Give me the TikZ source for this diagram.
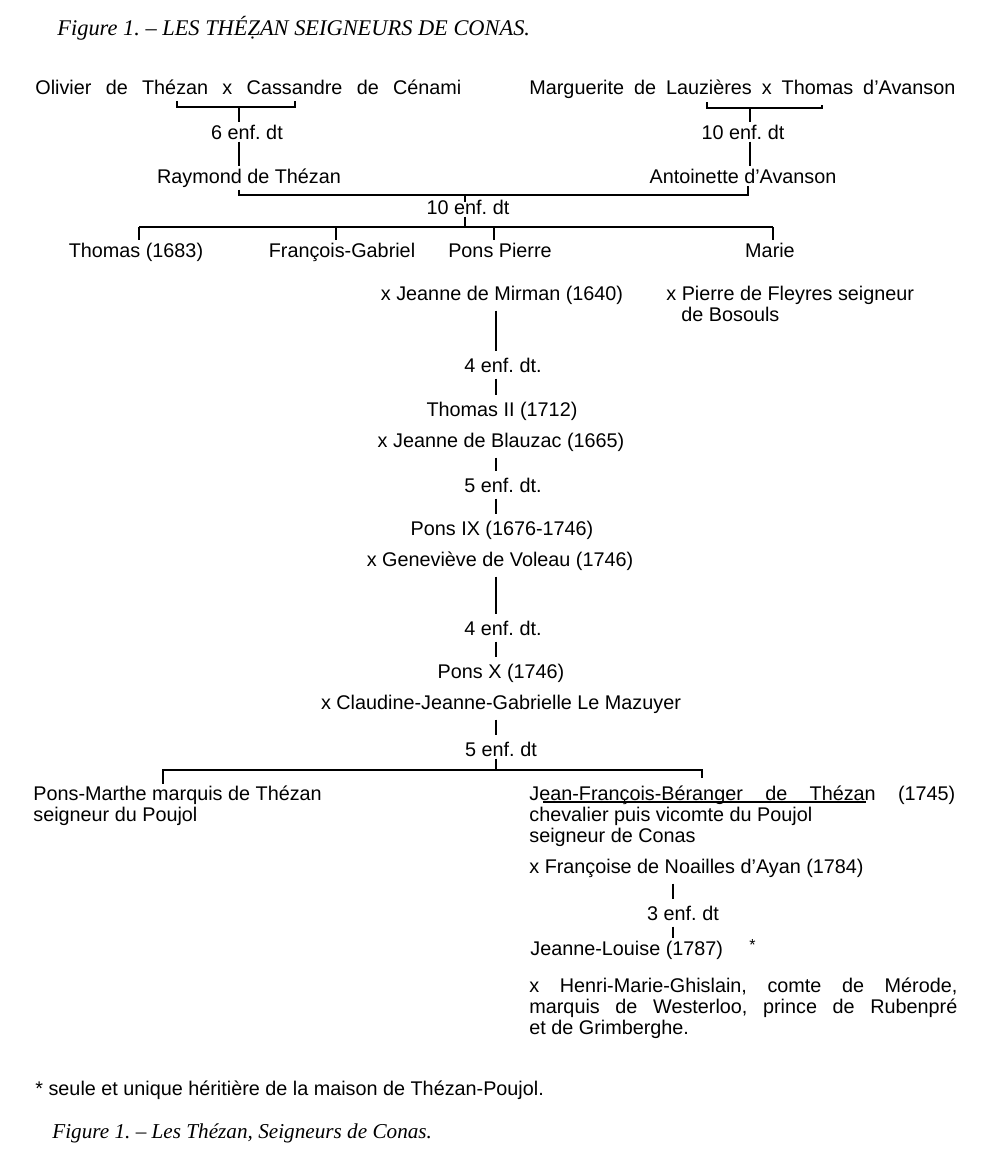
\documentclass[tikz,border=0pt]{standalone}
\usepackage{fontspec}
\setmainfont{Liberation Sans}
\newfontfamily\titrefont{Liberation Serif}
\usetikzlibrary{calc}
\tikzset{trait/.style={line width=1pt},
	titre/.style={font={\titrefont\itshape\fontsize{11.2}{13}\selectfont}}
}
\newcommand{\corps}{\fontsize{9.9}{10.6}\selectfont}

\begin{document}
\frenchspacing
\begin{tikzpicture}[x=0.5pt,y=-0.5pt]
	\tikzstyle{every node}=[font=\corps,inner sep=1pt]
	\useasboundingbox (0,0) rectangle (1000,1169);
	
	\node[titre,anchor=base west] (titre) at (55,35) {Figure 1. – LES THÉẒAN SEIGNEURS DE CONAS.};
	
	% les deux couples du haut
	\node[anchor=base west] (olivier) at (33,94) {\makebox[213pt][s]{Olivier de Thézan x Cassandre de Cénami}};
	\node[anchor=base west] (marguerite) at (527,94) {\makebox[213pt][s]{Marguerite de Lauzières x Thomas d’Avanson}};
	\node[anchor=base] (enf6) at (247,139) {6 enf. dt};
	\node[anchor=base] (enfdix) at (743,139) {10 enf. dt};
	\node[anchor=base] (raymond) at (249,183) {Raymond de Thézan};
	\node[anchor=base] (antoinette) at (743,183) {Antoinette d’Avanson};
	\node[anchor=base] (enf10) at (468,214) {10 enf. dt};
	
	% enfants
	\node[anchor=base] (thomas) at (136,257) {Thomas (1683)};
	\node[anchor=base] (fg) at (342,257) {François-Gabriel};
	\node[anchor=base] (pp) at (500,257) {Pons Pierre};
	\node[anchor=base] (marie) at (770,257) {Marie};
	\node[anchor=base] (mirman) at (502,300) {x Jeanne de Mirman (1640)};
	\node[anchor=north west,align=left] (fleyres) at (664,283.5) {x Pierre de Fleyres seigneur\\\hspace*{7.5pt}de Bosouls};
	
	% la branche de Pons Pierre
	\node[anchor=base] (enf4a) at (503,372) {4 enf. dt.};
	\node[anchor=base] (thomasII) at (502,416) {Thomas II (1712)};
	\node[anchor=base] (blauzac) at (501,447) {x Jeanne de Blauzac (1665)};
	\node[anchor=base] (enf5a) at (503,492) {5 enf. dt.};
	\node[anchor=base] (ponsIX) at (502,535) {Pons IX (1676-1746)};
	\node[anchor=base] (voleau) at (500,566) {x Geneviève de Voleau (1746)};
	\node[anchor=base] (enf4b) at (503,635) {4 enf. dt.};
	\node[anchor=base] (ponsX) at (501,678) {Pons X (1746)};
	\node[anchor=base] (mazuyer) at (501,709) {x Claudine-Jeanne-Gabrielle Le Mazuyer};
	\node[anchor=base] (enf5b) at (501,756) {5 enf. dt};
	
	% le bas
	\node[anchor=north west,align=left] (ponsmarthe) at (31,783.5) {Pons-Marthe marquis de Thézan\\seigneur du Poujol};
	\node[anchor=north west,align=left] (jfb) at (527,783.5) {\makebox[213pt][s]{Jean-François-Béranger de Thézan (1745)}\\chevalier puis vicomte du Poujol\\seigneur de Conas};
	\node[anchor=base west] (noailles) at (527,873) {x Françoise de Noailles d’Ayan (1784)};
	\node[anchor=base] (enf3) at (683,920) {3 enf. dt};
	\node[anchor=base west] (jlouise) at (528,955) {Jeanne-Louise (1787)};
	\node[anchor=base west,font=\fontsize{8}{9}\selectfont] (etoile) at (747,950) {*};
	\node[anchor=north west,align=left] (merode) at (527,975.5) {\makebox[214pt][s]{x Henri-Marie-Ghislain, comte de Mérode,}\\\makebox[214pt][s]{marquis de Westerloo, prince de Rubenpré}\\et de Grimberghe.};
	
	\node[anchor=base west] (note) at (33,1095) {* seule et unique héritière de la maison de Thézan-Poujol.};
	\node[titre,anchor=base west,font={\titrefont\itshape\fontsize{10.6}{12}\selectfont}] (legende) at (50,1138) {Figure 1. – Les Thézan, Seigneurs de Conas.};
	
	% accolades des mariages
	\coordinate (c1l) at (177,107);
	\coordinate (c1m) at (239,107);
	\coordinate (c1r) at (295,107);
	\draw[trait] ($(c1l)+(0,-6)$) -- (c1l) -- (c1r) -- ++(0,-6);
	\draw[trait] (c1m) -- (c1m |- enf6.north);
	\draw[trait] (enf6.south -| c1m) -- (raymond.north -| c1m);
	
	\coordinate (c2l) at (707,108);
	\coordinate (c2m) at (750,108);
	\coordinate (c2r) at (822,108);
	\draw[trait] ($(c2l)+(0,-6)$) -- (c2l) -- (c2r) -- ++(0,-3);
	\draw[trait] (c2m) -- (c2m |- enfdix.north);
	\draw[trait] (enfdix.south -| c2m) -- (antoinette.north -| c2m);
	
	% Raymond x Antoinette
	\coordinate (b1l) at (239,195);
	\coordinate (b1m) at (465,195);
	\coordinate (b1r) at (748,195);
	\draw[trait] (raymond.south -| b1l) -- (b1l) -- (b1r) -- (antoinette.south -| b1r);
	\draw[trait] (b1m) -- ($(b1m |- enf10.north)+(0,5)$);
	
	\coordinate (b2l) at (139,227);
	\coordinate (b2m) at (465,227);
	\coordinate (b2r) at (773,227);
	\draw[trait] (enf10.south -| b2m) -- (b2m);
	\draw[trait] (b2l) -- (b2r);
	\coordinate (t1) at (139,227);
	\coordinate (t2) at (336,227);
	\coordinate (t3) at (494,227);
	\coordinate (t4) at (773,227);
	\foreach \t/\n in {t1/thomas,t2/fg,t3/pp,t4/marie}
		\draw[trait] (\t) -- (\t |- \n.north);
	
	% la colonne du milieu
	\coordinate (col) at (496,0);
	\foreach \a/\b in {mirman/enf4a,enf4a/thomasII,blauzac/enf5a,enf5a/ponsIX,voleau/enf4b,enf4b/ponsX,mazuyer/enf5b}
		\draw[trait,shorten <=2pt,shorten >=2pt] (\a.south -| col) -- (\b.north -| col);
	
	\coordinate (b3l) at (163,770);
	\coordinate (b3m) at (496,770);
	\coordinate (b3r) at (702,770);
	\draw[trait] (enf5b.south -| b3m) -- (b3m);
	\draw[trait,shorten >=3pt] (ponsmarthe.north -| b3l) -- (b3l) -- (b3r) -- (jfb.north -| b3r);
	\draw[line width=0.7pt] (543,802) -- (866,802);
	
	\coordinate (c3) at (673,0);
	\draw[trait,shorten <=2pt,shorten >=2pt] (noailles.south -| c3) -- (enf3.north -| c3);
	\draw[trait,shorten <=2pt] (enf3.south -| c3) -- (jlouise.north -| c3);
\end{tikzpicture}
\end{document}
